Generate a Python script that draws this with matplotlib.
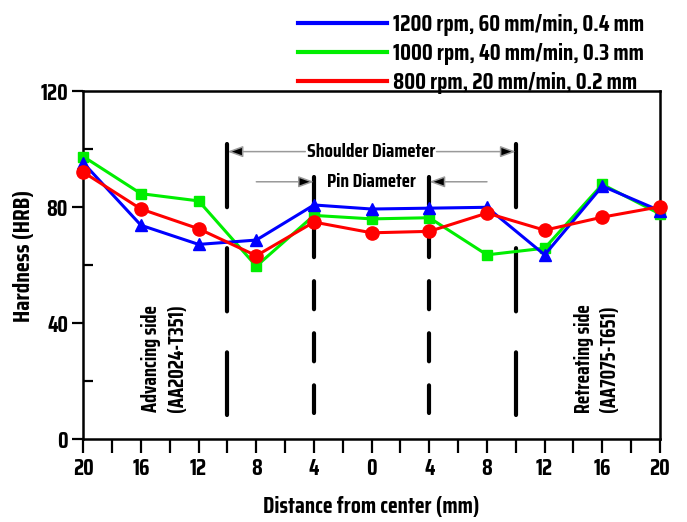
import matplotlib
matplotlib.use("Agg")
import matplotlib.pyplot as plt
from matplotlib.lines import Line2D
import numpy as np

plt.rcParams['font.family'] = ['Saira Condensed', 'Roboto Condensed', 'DejaVu Sans']
plt.rcParams['font.weight'] = 'bold'
plt.rcParams['axes.labelweight'] = 'bold'
plt.rcParams['lines.scale_dashes'] = False

# ---- data ----
positions = [-20, -16, -12, -8, -4, 0, 4, 8, 12, 16, 20]
tick_labels = ['20', '16', '12', '8', '4', '0', '4', '8', '12', '16', '20']
blue_vals = [95.2, 73.7, 67.1, 68.6, 80.7, 79.3, 79.6, 79.9, 63.5, 87.2, 78.7]
green_vals = [97.4, 84.6, 82.1, 59.6, 77.1, 75.9, 76.3, 63.5, 65.8, 87.8, 77.6]
red_vals = [92.0, 79.3, 72.5, 63.2, 74.8, 71.1, 71.6, 77.9, 72.0, 76.5, 80.1]
series_labels = ['1200 rpm, 60 mm/min, 0.4 mm',
                 '1000 rpm, 40 mm/min, 0.3 mm',
                 '800 rpm, 20 mm/min, 0.2 mm']
shoulder_x = [-10, 10]
pin_x = [-4, 4]
y_ticks = [0, 40, 80, 120]
y_minor = [20, 60, 100]

fig = plt.figure(figsize=(6.87, 5.22), dpi=100)
ax = fig.add_axes([83.3 / 687, 1 - 439 / 522, (660 - 83.3) / 687, (439 - 91) / 522])

# vertical boundary lines
for xv in shoulder_x:
    ax.plot([xv, xv], [101.7, 8.2], color='black', lw=3.0,
            dashes=(45.5, 29.5), solid_capstyle='round', dash_capstyle='round', zorder=1)
for xv in pin_x:
    ax.plot([xv, xv], [90.3, 9.0], color='black', lw=3.0,
            dashes=(20.2, 17.3), solid_capstyle='round', dash_capstyle='round', zorder=1)

# data series
ax.plot(positions, green_vals, color='#00ee00', lw=2.2, marker='s', ms=7.5,
        clip_on=False, zorder=3)
ax.plot(positions, blue_vals, color='#0000ff', lw=2.2, marker='^', ms=9,
        clip_on=False, zorder=4)
ax.plot(positions, red_vals, color='#ff0000', lw=2.2, marker='o', ms=9.5,
        clip_on=False, zorder=5)

# annotations
arrow_kw = dict(arrowstyle='-|>,head_length=0.55,head_width=0.2', mutation_scale=17,
                ec='#9a9a9a', fc='black', lw=1.1, shrinkA=0, shrinkB=0)
ax.text(0, 99.1, 'Shoulder Diameter', ha='center', va='center', fontsize=14)
ax.annotate('', xy=(-10, 99.1), xytext=(-4.6, 99.1), arrowprops=arrow_kw, zorder=2)
ax.annotate('', xy=(10, 99.1), xytext=(4.5, 99.1), arrowprops=arrow_kw, zorder=2)
ax.text(0, 88.7, 'Pin Diameter', ha='center', va='center', fontsize=14)
ax.annotate('', xy=(-4, 88.7), xytext=(-8, 88.7), arrowprops=arrow_kw, zorder=2)
ax.annotate('', xy=(4, 88.7), xytext=(8, 88.7), arrowprops=arrow_kw, zorder=2)

ax.text(-14.4, 27.8, 'Advancing side\n(AA2024-T351)', rotation=90, ha='center',
        va='center', fontsize=14.5, linespacing=1.35, multialignment='center')
ax.text(15.6, 27.8, 'Retreating side\n(AA7075-T651)', rotation=90, ha='center',
        va='center', fontsize=14.5, linespacing=1.35, multialignment='center')

# axes
ax.set_xlim(-20, 20)
ax.set_ylim(0, 120)
ax.set_xticks(positions)
ax.set_xticklabels(tick_labels)
ax.set_xticks(np.arange(-20, 21, 2), minor=True)
ax.set_yticks(y_ticks)
ax.set_yticks(y_minor, minor=True)
ax.tick_params(axis='x', which='both', direction='out', length=10, width=1.6,
               labelsize=16, pad=4)
ax.tick_params(axis='y', which='major', direction='out', length=8, width=1.6,
               labelsize=16, pad=3)
ax.tick_params(axis='y', which='minor', direction='in', length=7, width=1.6)
for s in ax.spines.values():
    s.set_linewidth(1.8)

ax.set_xlabel('Distance from center (mm)', fontsize=16.5, labelpad=11)
ax.set_ylabel('Hardness (HRB)', fontsize=17)
ax.yaxis.set_label_coords(-0.083, 0.526)

handles = [Line2D([], [], color=c, lw=3) for c in ['#0000ff', '#00ee00', '#ff0000']]
fig.legend(handles, series_labels, loc='upper left',
           bbox_to_anchor=(298 / 687, 1 - 14 / 522), frameon=False, fontsize=16.5,
           handlelength=3.9, handletextpad=0.25, labelspacing=0.3,
           borderpad=0, borderaxespad=0)

fig.savefig('out.png', dpi=100)
